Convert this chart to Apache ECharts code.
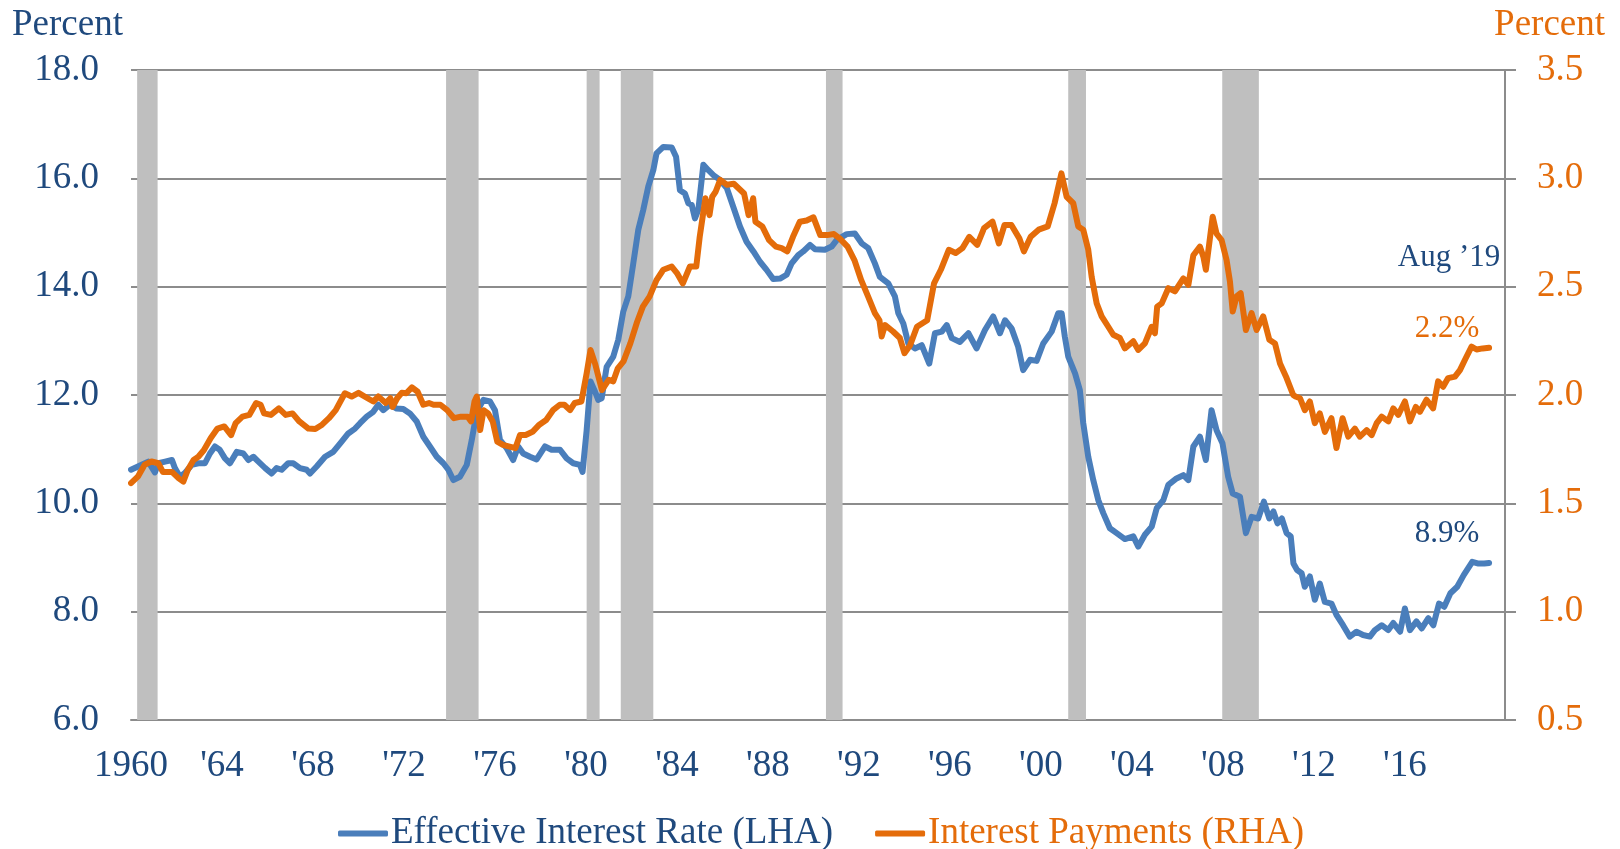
<!DOCTYPE html>
<html>
<head>
<meta charset="utf-8">
<script src="https://cdn.jsdelivr.net/npm/echarts@6/dist/echarts.min.js"></script>
<style>
  html, body { margin: 0; padding: 0; background: #fff; }
  #chart { width: 1620px; height: 849px; }
</style>
</head>
<body>
<div id="chart"></div>
<script>
// recession periods, decimal years [start, end]
const recessions = [
  [1960.27, 1961.17], [1973.85, 1975.28], [1980.03, 1980.6], [1981.53, 1982.96],
  [1990.55, 1991.28], [2001.2, 2001.98], [2007.97, 2009.58]
]

// effective interest rate, percent (left axis) - [decimal year, value]
const effectiveRate = [
  [1960.0, 10.62], [1960.4, 10.7], [1960.76, 10.77], [1961.05, 10.57], [1961.2, 10.74], [1961.5, 10.77],
  [1961.8, 10.8], [1961.93, 10.65], [1962.15, 10.49], [1962.37, 10.56], [1962.67, 10.71], [1962.96, 10.74],
  [1963.25, 10.74], [1963.47, 10.92], [1963.69, 11.05], [1963.9, 10.99], [1964.13, 10.83], [1964.35, 10.74],
  [1964.65, 10.95], [1964.94, 10.92], [1965.16, 10.8], [1965.38, 10.86], [1965.6, 10.77], [1965.9, 10.65],
  [1966.18, 10.55], [1966.4, 10.65], [1966.62, 10.62], [1966.91, 10.74], [1967.13, 10.74], [1967.43, 10.65],
  [1967.72, 10.62], [1967.87, 10.55], [1968.16, 10.68], [1968.53, 10.86], [1968.89, 10.95], [1969.26, 11.14],
  [1969.55, 11.29], [1969.85, 11.38], [1970.07, 11.48], [1970.36, 11.6], [1970.65, 11.69], [1970.87, 11.82],
  [1971.09, 11.72], [1971.38, 11.82], [1971.68, 11.75], [1971.97, 11.74], [1972.26, 11.66], [1972.56, 11.51],
  [1972.85, 11.23], [1973.14, 11.05], [1973.44, 10.86], [1973.73, 10.74], [1973.95, 10.62], [1974.17, 10.43],
  [1974.46, 10.49], [1974.76, 10.71], [1974.98, 11.17], [1975.2, 11.69], [1975.49, 11.91], [1975.78, 11.88],
  [1976.0, 11.72], [1976.22, 11.17], [1976.51, 11.02], [1976.8, 10.8], [1977.02, 11.05], [1977.24, 10.92],
  [1977.54, 10.86], [1977.83, 10.81], [1978.2, 11.05], [1978.49, 10.99], [1978.86, 10.99], [1979.15, 10.83],
  [1979.44, 10.74], [1979.74, 10.71], [1979.85, 10.58], [1980.03, 11.35], [1980.2, 12.25], [1980.4, 12.06],
  [1980.54, 11.91], [1980.69, 11.94], [1980.91, 12.52], [1981.2, 12.71], [1981.42, 13.02], [1981.64, 13.54],
  [1981.86, 13.82], [1982.08, 14.43], [1982.3, 15.05], [1982.52, 15.42], [1982.74, 15.85], [1982.96, 16.15],
  [1983.1, 16.46], [1983.4, 16.58], [1983.77, 16.57], [1983.96, 16.4], [1984.13, 15.78], [1984.35, 15.72],
  [1984.5, 15.54], [1984.65, 15.51], [1984.79, 15.26], [1984.94, 15.42], [1985.16, 16.25], [1985.38, 16.15],
  [1985.6, 16.06], [1985.89, 15.97], [1986.19, 15.82], [1986.47, 15.48], [1986.77, 15.11], [1987.06, 14.83],
  [1987.36, 14.65], [1987.65, 14.46], [1987.94, 14.31], [1988.23, 14.14], [1988.53, 14.15], [1988.82, 14.22],
  [1989.04, 14.43], [1989.33, 14.58], [1989.55, 14.65], [1989.85, 14.77], [1990.07, 14.69], [1990.5, 14.68],
  [1990.8, 14.74], [1991.02, 14.86], [1991.46, 14.97], [1991.82, 14.98], [1992.12, 14.8], [1992.41, 14.71],
  [1992.7, 14.43], [1992.92, 14.18], [1993.29, 14.06], [1993.58, 13.82], [1993.73, 13.51], [1993.95, 13.32],
  [1994.17, 12.95], [1994.46, 12.86], [1994.76, 12.92], [1995.09, 12.58], [1995.34, 13.14], [1995.64, 13.17],
  [1995.86, 13.29], [1996.08, 13.05], [1996.44, 12.98], [1996.81, 13.14], [1997.17, 12.86], [1997.54, 13.2],
  [1997.9, 13.45], [1998.2, 13.14], [1998.42, 13.38], [1998.71, 13.23], [1999.0, 12.89], [1999.22, 12.46],
  [1999.52, 12.65], [1999.81, 12.63], [2000.1, 12.95], [2000.47, 13.17], [2000.76, 13.51], [2000.91, 13.51],
  [2001.05, 13.08], [2001.2, 12.71], [2001.5, 12.4], [2001.71, 12.09], [2001.86, 11.48], [2002.08, 10.86],
  [2002.3, 10.43], [2002.52, 10.06], [2002.74, 9.82], [2003.03, 9.54], [2003.33, 9.45], [2003.69, 9.34],
  [2004.06, 9.39], [2004.28, 9.2], [2004.57, 9.42], [2004.87, 9.57], [2005.09, 9.91], [2005.38, 10.06],
  [2005.6, 10.34], [2005.96, 10.46], [2006.26, 10.52], [2006.48, 10.43], [2006.7, 11.05], [2006.99, 11.23],
  [2007.25, 10.8], [2007.5, 11.72], [2007.72, 11.35], [2007.98, 11.11], [2008.23, 10.49], [2008.43, 10.18],
  [2008.75, 10.12], [2009.01, 9.45], [2009.26, 9.75], [2009.55, 9.72], [2009.8, 10.03], [2010.04, 9.72],
  [2010.22, 9.85], [2010.4, 9.63], [2010.59, 9.72], [2010.8, 9.45], [2010.98, 9.39], [2011.1, 8.89],
  [2011.26, 8.77], [2011.46, 8.71], [2011.6, 8.46], [2011.82, 8.65], [2012.04, 8.22], [2012.26, 8.52],
  [2012.48, 8.18], [2012.77, 8.15], [2012.99, 7.94], [2013.28, 7.75], [2013.58, 7.54], [2013.87, 7.63],
  [2014.16, 7.57], [2014.46, 7.54], [2014.68, 7.66], [2014.98, 7.75], [2015.27, 7.66], [2015.49, 7.79],
  [2015.79, 7.63], [2016.0, 8.06], [2016.22, 7.66], [2016.51, 7.82], [2016.74, 7.69], [2017.03, 7.88],
  [2017.25, 7.75], [2017.5, 8.15], [2017.73, 8.09], [2018.0, 8.34], [2018.3, 8.46], [2018.59, 8.68],
  [2018.96, 8.92], [2019.2, 8.89], [2019.49, 8.89], [2019.7, 8.9]
]

// interest payments, percent (right axis) - [decimal year, value]
const interestPayments = [
  [1960.0, 1.593], [1960.3, 1.623], [1960.6, 1.678], [1960.9, 1.693], [1961.2, 1.685], [1961.4, 1.645],
  [1961.8, 1.645], [1962.1, 1.615], [1962.3, 1.6], [1962.5, 1.655], [1962.75, 1.7], [1962.96, 1.715],
  [1963.2, 1.745], [1963.5, 1.8], [1963.8, 1.845], [1964.1, 1.855], [1964.4, 1.815], [1964.6, 1.87],
  [1964.9, 1.9], [1965.2, 1.908], [1965.5, 1.963], [1965.7, 1.955], [1965.85, 1.915], [1966.15, 1.908],
  [1966.5, 1.938], [1966.8, 1.908], [1967.1, 1.915], [1967.4, 1.878], [1967.8, 1.845], [1968.1, 1.843],
  [1968.4, 1.863], [1968.7, 1.893], [1969.0, 1.93], [1969.4, 2.008], [1969.7, 1.993], [1970.0, 2.01],
  [1970.4, 1.985], [1970.65, 1.97], [1970.87, 1.993], [1971.2, 1.963], [1971.4, 1.985], [1971.5, 1.945],
  [1971.7, 1.985], [1971.9, 2.01], [1972.1, 2.008], [1972.35, 2.035], [1972.6, 2.015], [1972.85, 1.955],
  [1973.1, 1.963], [1973.3, 1.955], [1973.6, 1.955], [1973.9, 1.93], [1974.2, 1.893], [1974.5, 1.9],
  [1974.8, 1.9], [1974.95, 1.878], [1975.1, 1.97], [1975.2, 1.993], [1975.35, 1.838], [1975.5, 1.93],
  [1975.7, 1.915], [1975.9, 1.878], [1976.1, 1.785], [1976.35, 1.77], [1976.6, 1.763], [1976.9, 1.755],
  [1977.1, 1.815], [1977.35, 1.815], [1977.65, 1.83], [1977.95, 1.863], [1978.25, 1.885], [1978.55, 1.93],
  [1978.85, 1.955], [1979.05, 1.955], [1979.3, 1.93], [1979.5, 1.963], [1979.8, 1.97], [1980.03, 2.1],
  [1980.2, 2.208], [1980.4, 2.145], [1980.7, 2.023], [1981.0, 2.07], [1981.2, 2.063], [1981.4, 2.123],
  [1981.65, 2.155], [1981.95, 2.238], [1982.25, 2.338], [1982.5, 2.408], [1982.8, 2.455], [1983.1, 2.53],
  [1983.4, 2.578], [1983.77, 2.593], [1984.0, 2.563], [1984.26, 2.515], [1984.57, 2.593], [1984.85, 2.593],
  [1985.0, 2.73], [1985.25, 2.908], [1985.43, 2.83], [1985.55, 2.915], [1985.7, 2.938], [1985.9, 2.993],
  [1986.2, 2.97], [1986.5, 2.975], [1986.8, 2.945], [1986.95, 2.93], [1987.15, 2.83], [1987.35, 2.908],
  [1987.45, 2.8], [1987.75, 2.778], [1988.05, 2.715], [1988.35, 2.685], [1988.6, 2.678], [1988.85, 2.663],
  [1989.1, 2.73], [1989.4, 2.8], [1989.7, 2.805], [1990.0, 2.82], [1990.3, 2.738], [1990.6, 2.738],
  [1990.9, 2.743], [1991.15, 2.723], [1991.5, 2.685], [1991.8, 2.623], [1992.1, 2.53], [1992.4, 2.455],
  [1992.7, 2.378], [1992.9, 2.345], [1993.0, 2.27], [1993.15, 2.323], [1993.5, 2.293], [1993.8, 2.263],
  [1994.0, 2.193], [1994.25, 2.23], [1994.55, 2.315], [1995.0, 2.345], [1995.3, 2.515], [1995.6, 2.578],
  [1995.95, 2.67], [1996.25, 2.655], [1996.55, 2.678], [1996.85, 2.73], [1997.2, 2.693], [1997.5, 2.77],
  [1997.87, 2.8], [1998.15, 2.7], [1998.4, 2.785], [1998.7, 2.785], [1999.05, 2.723], [1999.25, 2.663],
  [1999.55, 2.73], [1999.9, 2.763], [2000.3, 2.778], [2000.6, 2.885], [2000.9, 3.023], [2001.13, 2.915],
  [2001.42, 2.885], [2001.64, 2.778], [2001.86, 2.763], [2002.08, 2.67], [2002.23, 2.545], [2002.45, 2.423],
  [2002.67, 2.363], [2002.96, 2.315], [2003.18, 2.278], [2003.47, 2.263], [2003.69, 2.215], [2004.06, 2.248],
  [2004.28, 2.208], [2004.57, 2.238], [2004.87, 2.315], [2005.01, 2.285], [2005.11, 2.408], [2005.31, 2.423],
  [2005.6, 2.493], [2005.89, 2.478], [2006.26, 2.538], [2006.48, 2.508], [2006.7, 2.645], [2006.99, 2.685],
  [2007.14, 2.638], [2007.25, 2.578], [2007.4, 2.7], [2007.55, 2.823], [2007.72, 2.745], [2007.94, 2.715],
  [2008.16, 2.623], [2008.31, 2.523], [2008.43, 2.385], [2008.6, 2.455], [2008.78, 2.47], [2009.01, 2.3],
  [2009.26, 2.378], [2009.48, 2.3], [2009.77, 2.363], [2010.04, 2.255], [2010.29, 2.238], [2010.51, 2.145],
  [2010.8, 2.078], [2011.09, 2.0], [2011.19, 1.993], [2011.39, 1.985], [2011.6, 1.93], [2011.82, 1.97],
  [2012.04, 1.87], [2012.26, 1.915], [2012.48, 1.83], [2012.77, 1.893], [2012.99, 1.755], [2013.26, 1.893],
  [2013.51, 1.808], [2013.8, 1.845], [2014.02, 1.808], [2014.32, 1.838], [2014.54, 1.815], [2014.76, 1.87],
  [2014.98, 1.9], [2015.27, 1.878], [2015.49, 1.938], [2015.71, 1.908], [2016.0, 1.97], [2016.22, 1.878],
  [2016.48, 1.945], [2016.66, 1.923], [2016.95, 1.978], [2017.24, 1.938], [2017.46, 2.063], [2017.68, 2.038],
  [2017.9, 2.078], [2018.2, 2.085], [2018.42, 2.115], [2018.64, 2.163], [2018.93, 2.223], [2019.15, 2.21],
  [2019.42, 2.215], [2019.7, 2.218]
]

const leftTicks = { min: 6, max: 18, interval: 2 }
const rightTicks = { min: 0.5, max: 3.5, interval: 0.5 }
const lastLabel = 'Aug \u201919'

const BLUE_LINE = '#4A7EBB'
const ORANGE_LINE = '#E46C0A'
const BLUE_TEXT = '#1F497D'
const ORANGE_TEXT = '#E46C0A'
const GRID_GRAY = '#8C8C8C'
const FONT = '"Liberation Serif", "Times New Roman", serif'

const chart = echarts.init(document.getElementById('chart'), null, { renderer: 'canvas' })

const rateLast = effectiveRate[effectiveRate.length - 1]
const payLast = interestPayments[interestPayments.length - 1]

chart.setOption({
  animation: false,
  backgroundColor: '#fff',
  textStyle: { fontFamily: FONT },
  grid: { left: 131, right: 115, top: 70, bottom: 129 },
  graphic: [
    { type: 'text', left: 12, top: 7, style: { text: 'Percent', font: '37px ' + FONT, fill: BLUE_TEXT } },
    { type: 'text', right: 15, top: 7, style: { text: 'Percent', font: '37px ' + FONT, fill: ORANGE_TEXT } }
  ],
  legend: {
    left: 333,
    top: 810,
    icon: 'roundRect',
    itemWidth: 50,
    itemHeight: 6,
    itemGap: 42,
    textStyle: { fontSize: 37, fontFamily: FONT, padding: [0, 0, 0, -2] },
    data: [
      { name: 'Effective Interest Rate (LHA)', textStyle: { color: BLUE_TEXT } },
      { name: 'Interest Payments (RHA)', textStyle: { color: ORANGE_TEXT } }
    ]
  },
  xAxis: {
    type: 'value',
    min: 1960,
    max: 2020.4,
    interval: 4,
    axisLine: { show: true, onZero: false, lineStyle: { color: GRID_GRAY, width: 2 } },
    axisTick: { show: false },
    splitLine: { show: false },
    axisLabel: {
      color: BLUE_TEXT,
      fontSize: 37,
      fontFamily: FONT,
      margin: 28,
      formatter: (v) => {
        if (v > 2016.5 || Math.abs(v - Math.round(v)) > 0.001) return ''
        return v === 1960 ? '1960' : "'" + String(v).slice(2)
      }
    }
  },
  yAxis: [
    {
      type: 'value',
      min: leftTicks.min,
      max: leftTicks.max,
      interval: leftTicks.interval,
      axisLine: { show: false },
      axisTick: { show: false },
      splitLine: { show: true, lineStyle: { color: GRID_GRAY, width: 2 } },
      axisLabel: { color: BLUE_TEXT, fontSize: 37, fontFamily: FONT, margin: 32, formatter: (v) => v.toFixed(1) }
    },
    {
      type: 'value',
      position: 'right',
      min: rightTicks.min,
      max: rightTicks.max,
      interval: rightTicks.interval,
      axisLine: { show: true, lineStyle: { color: GRID_GRAY, width: 2 } },
      axisTick: { show: true, length: 11, lineStyle: { color: GRID_GRAY, width: 2 } },
      splitLine: { show: false },
      axisLabel: { color: ORANGE_TEXT, fontSize: 37, fontFamily: FONT, margin: 32, formatter: (v) => v.toFixed(1) }
    }
  ],
  series: [
    {
      name: 'Recessions',
      type: 'custom',
      z: 1,
      silent: true,
      xAxisIndex: 0,
      yAxisIndex: 0,
      encode: { x: [0, 1] },
      data: recessions,
      renderItem: (params, api) => {
        const p0 = api.coord([api.value(0), leftTicks.max])
        const p1 = api.coord([api.value(1), leftTicks.min])
        return {
          type: 'rect',
          shape: { x: p0[0], y: p0[1], width: p1[0] - p0[0], height: p1[1] - p0[1] },
          style: { fill: '#BFBFBF' }
        }
      }
    },
    {
      name: 'Effective Interest Rate (LHA)',
      type: 'line',
      z: 3,
      yAxisIndex: 0,
      data: effectiveRate,
      showSymbol: false,
      symbol: 'none',
      color: BLUE_LINE,
      lineStyle: { color: BLUE_LINE, width: 6, cap: 'round', join: 'round' },
      markPoint: {
        symbolSize: 0,
        silent: true,
        data: [
          {
            coord: rateLast,
            label: {
              show: true, position: 'inside', offset: [-42, -29],
              formatter: rateLast[1].toFixed(1) + '%', color: BLUE_TEXT, fontSize: 31, fontFamily: FONT
            }
          }
        ]
      }
    },
    {
      name: 'Interest Payments (RHA)',
      type: 'line',
      z: 4,
      yAxisIndex: 1,
      data: interestPayments,
      showSymbol: false,
      symbol: 'none',
      color: ORANGE_LINE,
      lineStyle: { color: ORANGE_LINE, width: 6, cap: 'round', join: 'round' },
      markPoint: {
        symbolSize: 0,
        silent: true,
        data: [
          {
            coord: payLast,
            label: {
              show: true, position: 'inside', offset: [-42, -19],
              formatter: payLast[1].toFixed(1) + '%', color: ORANGE_TEXT, fontSize: 31, fontFamily: FONT
            }
          },
          {
            coord: payLast,
            label: {
              show: true, position: 'inside', offset: [-40, -90],
              formatter: lastLabel, color: BLUE_TEXT, fontSize: 31, fontFamily: FONT
            }
          }
        ]
      }
    }
  ]
})

window.addEventListener('resize', () => chart.resize())
</script>
</body>
</html>
